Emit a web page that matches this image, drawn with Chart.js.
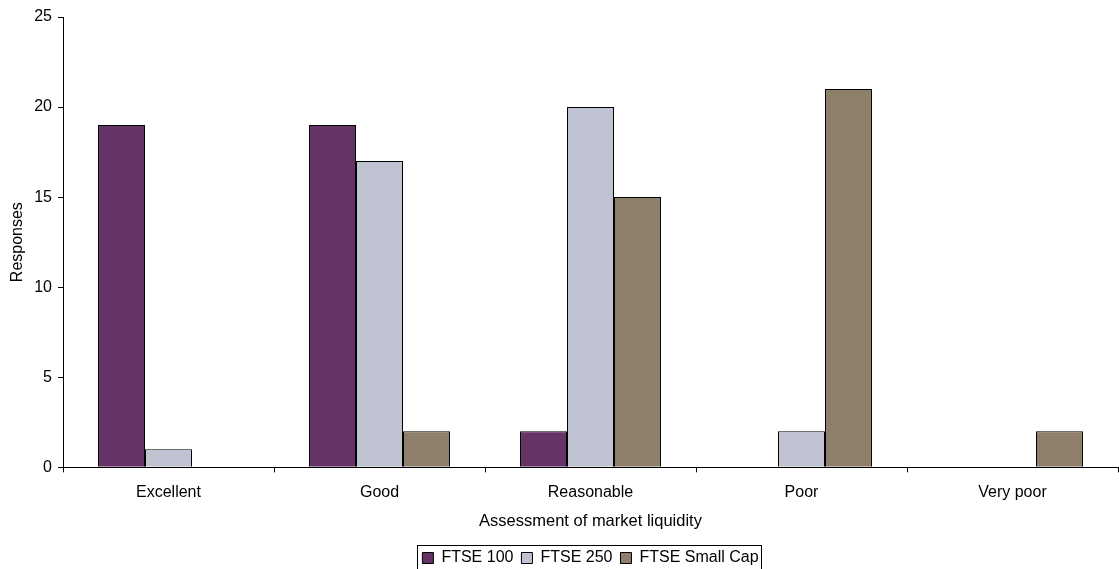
<!DOCTYPE html>
<html>
<head>
<meta charset="utf-8">
<script src="https://cdn.jsdelivr.net/npm/chart.js@4"></script>
<style>
  html, body { margin: 0; padding: 0; background: #fff; }
  #wrap { width: 1119px; height: 569px; }
</style>
</head>
<body>
<div id="wrap"><canvas id="myChart" width="1119" height="569"></canvas></div>
<script>
const categories = ['Excellent', 'Good', 'Reasonable', 'Poor', 'Very poor'];
const ftse100 = [19, 19, 2, 0, 0];
const ftse250 = [1, 17, 20, 2, 0];
const ftseSmallCap = [0, 2, 15, 21, 2];
const yTicks = [0, 5, 10, 15, 20, 25];

const FONT = 'Arial, "Liberation Sans", sans-serif';

// box round the legend, like the spreadsheet one
const legendBox = {
    id: 'legendBox',
    afterDraw(chart) {
        const boxes = chart.legend && chart.legend.legendHitBoxes;
        if (!boxes || !boxes.length) return;
        let l = Infinity, r = -Infinity, t = Infinity, b = -Infinity;
        boxes.forEach(h => {
            l = Math.min(l, h.left); r = Math.max(r, h.left + h.width);
            t = Math.min(t, h.top); b = Math.max(b, h.top + h.height);
        });
        const ctx = chart.ctx;
        ctx.save();
        ctx.strokeStyle = '#000';
        ctx.lineWidth = 1;
        ctx.strokeRect(Math.round(l) - 4.5, Math.round(t) - 4.5, Math.round(r - l) + 8, Math.round(b - t) + 8);
        ctx.restore();
    }
};

function makeSet(label, data, color) {
    return {
        label: label,
        data: data,
        backgroundColor: color,
        borderColor: '#000',
        borderWidth: 1,
        borderSkipped: 'bottom',
        categoryPercentage: 0.668,
        barPercentage: 1.0
    };
}

const ctx = document.getElementById('myChart').getContext('2d');
new Chart(ctx, {
    type: 'bar',
    data: {
        labels: categories,
        datasets: [
            makeSet('FTSE 100', ftse100, '#663366'),
            makeSet('FTSE 250', ftse250, '#c0c4d2'),
            makeSet('FTSE Small Cap', ftseSmallCap, '#8e7f6b')
        ]
    },
    options: {
        responsive: false,
        animation: false,
        maintainAspectRatio: false,
        layout: { padding: { top: 17, right: 1, left: 0, bottom: -7 } },
        plugins: {
            tooltip: { enabled: false },
            legend: {
                position: 'bottom',
                fullSize: false,
                labels: {
                    color: '#000',
                    font: { family: FONT, size: 16 },
                    boxWidth: 11,
                    boxHeight: 11,
                    padding: 8,
                    generateLabels(chart) {
                        return chart.data.datasets.map((ds, i) => ({
                            text: ds.label,
                            fillStyle: ds.backgroundColor,
                            strokeStyle: '#000',
                            lineWidth: 1,
                            hidden: false,
                            datasetIndex: i,
                            fontColor: '#000'
                        }));
                    }
                }
            }
        },
        scales: {
            x: {
                grid: {
                    offset: true,
                    drawOnChartArea: false,
                    drawTicks: true,
                    tickLength: 5,
                    tickColor: '#000'
                },
                border: { color: '#000', width: 1 },
                ticks: { color: '#000', font: { family: FONT, size: 16 }, padding: 11, maxRotation: 0 },
                title: {
                    display: true,
                    text: 'Assessment of market liquidity',
                    color: '#000',
                    font: { family: FONT, size: 16.5, lineHeight: 1 },
                    padding: { top: 0, bottom: 12 }
                }
            },
            y: {
                min: 0,
                max: 25,
                afterBuildTicks(scale) { scale.ticks = yTicks.map(v => ({ value: v })); },
                afterFit(scale) { scale.width = 63; },
                grid: {
                    drawOnChartArea: false,
                    drawTicks: true,
                    tickLength: 5,
                    tickColor: '#000'
                },
                border: { color: '#000', width: 1 },
                ticks: { color: '#000', font: { family: FONT, size: 16 }, padding: 6 },
                title: {
                    display: true,
                    text: 'Responses',
                    color: '#000',
                    font: { family: FONT, size: 16 },
                    padding: { top: 8, bottom: 0 }
                }
            }
        }
    },
    plugins: [legendBox]
});
</script>
</body>
</html>
